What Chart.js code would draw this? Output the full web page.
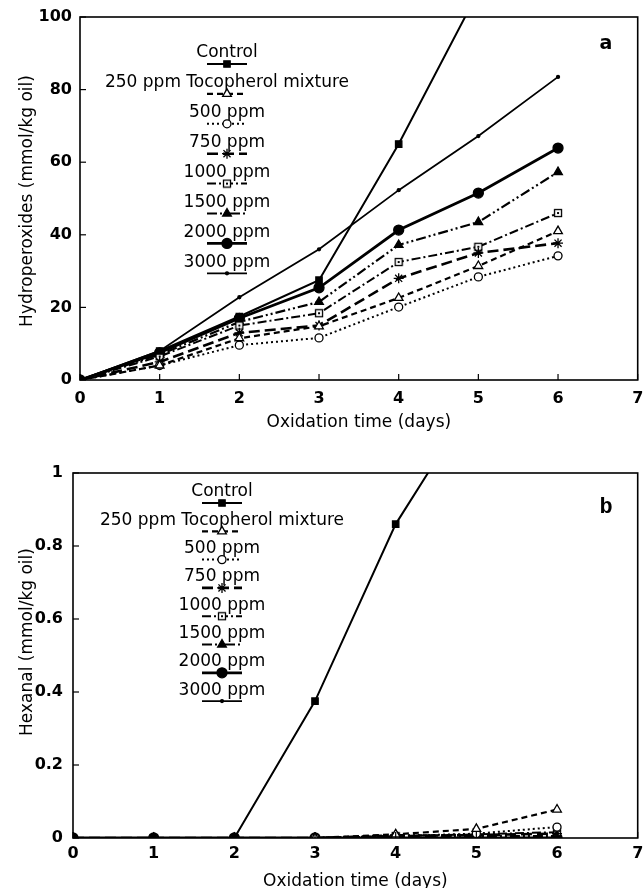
<!DOCTYPE html>
<html><head><meta charset="utf-8">
<script src="https://cdn.jsdelivr.net/npm/chart.js@4/dist/chart.umd.min.js"></script>
<style>
html,body{margin:0;padding:0;background:#fff;width:644px;height:888px;overflow:hidden}
.box{position:absolute;left:0;width:644px;height:444px}
#b1{top:0}#b2{top:444px}
canvas{display:block}
</style></head><body>
<div class="box" id="b1"><canvas id="c1" width="644" height="444"></canvas></div>
<div class="box" id="b2"><canvas id="c2" width="644" height="444"></canvas></div>
<script>
// ---------- data ----------
const days = [0, 1, 2, 3, 4, 5, 6];
const seriesNames = ['Control', '250 ppm Tocopherol mixture', '500 ppm', '750 ppm', '1000 ppm', '1500 ppm', '2000 ppm', '3000 ppm'];
const xTickValues = [0, 1, 2, 3, 4, 5, 6, 7];
const hpTickValues = [0, 20, 40, 60, 80, 100];
const hexTickValues = [0, 0.2, 0.4, 0.6, 0.8, 1];

// (a) Hydroperoxides (mmol/kg oil)
const hpControl = [0, 8, 17.5, 27.5, 65, 107, null];
const hp250 = [0, 4, 11.5, 14.8, 22.6, 31.4, 41];
const hp500 = [0, 4, 9.6, 11.6, 20.1, 28.4, 34.2];
const hp750 = [0, 5, 13, 15, 28, 35, 37.7];
const hp1000 = [0, 6.5, 15, 18.4, 32.5, 36.7, 46];
const hp1500 = [0, 7, 16, 21.5, 37.2, 43.5, 57.3];
const hp2000 = [0, 7.5, 17, 25.4, 41.3, 51.5, 63.9];
const hp3000 = [0, 8, 22.8, 36, 52.3, 67.2, 83.5];

// (b) Hexanal (mmol/kg oil)
const hexControl = [0, 0, 0, 0.375, 0.86, 1.21, null];
const hex250 = [0, 0, 0, 0, 0.01, 0.025, 0.078];
const hex500 = [0, 0, 0, 0, 0.005, 0.012, 0.03];
const hex750 = [0, 0, 0, 0, 0.005, 0.008, 0.012];
const hex1000 = [0, 0, 0, 0, 0.005, 0.01, 0.016];
const hex1500 = [0, 0, 0, 0, 0.008, 0.005, 0.005];
const hex2000 = [0, 0, 0, 0, 0, 0, 0];
const hex3000 = [0, 0, 0, 0, 0, 0, 0];

// ---------- styles ----------
function dottedSquare() {
  const c = document.createElement('canvas');
  c.width = 10; c.height = 10;
  const g = c.getContext('2d');
  g.fillStyle = '#fff'; g.fillRect(1, 1, 8, 8);
  g.strokeStyle = '#000'; g.lineWidth = 1.3; g.strokeRect(1.5, 1.5, 7, 7);
  g.fillStyle = '#000'; g.fillRect(4, 4, 2, 2);
  return c;
}
const sqDot = dottedSquare();
const seriesStyles = [
  {dash: [], width: 2, point: 'rect', r: 4.5, fill: '#000'},
  {dash: [6, 4], width: 2.2, point: 'triangle', r: 5, fill: '#fff'},
  {dash: [2, 3], width: 2, point: 'circle', r: 4, fill: '#fff'},
  {dash: [11, 5], width: 2.6, point: 'star', r: 5, fill: '#000'},
  {dash: [9, 3, 2, 3], width: 2, point: sqDot, r: 5, fill: '#fff'},
  {dash: [10, 3, 2, 3, 2, 3], width: 2.2, point: 'triangle', r: 5, fill: '#000'},
  {dash: [], width: 2.8, point: 'circle', r: 5, fill: '#000'},
  {dash: [], width: 1.8, point: 'circle', r: 1.5, fill: '#000'}
];

function buildDatasets(series) {
  return series.map((vals, i) => {
    const s = seriesStyles[i];
    return {
      label: seriesNames[i],
      data: days.map((d, k) => ({x: d, y: vals[k]})),
      borderColor: '#000',
      backgroundColor: s.fill,
      borderWidth: s.width,
      borderDash: s.dash,
      pointStyle: s.point,
      pointRadius: s.r,
      pointBackgroundColor: s.fill,
      pointBorderColor: '#000',
      pointBorderWidth: 1.3,
      tension: 0,
      spanGaps: false,
      _style: s
    };
  });
}

Chart.defaults.font.family = 'DejaVu Sans';
Chart.defaults.color = '#000';

const decor = {
  id: 'decor',
  afterDraw(chart, args, o) {
    const ctx = chart.ctx;
    const a = chart.chartArea;
    const xs = chart.scales.x, ys = chart.scales.y;
    ctx.save();
    ctx.setLineDash([]);
    ctx.strokeStyle = '#000';
    // frame
    ctx.lineWidth = 1.6;
    ctx.strokeRect(a.left, a.top, a.right - a.left, a.bottom - a.top);
    // inward ticks
    ctx.lineWidth = 1.2;
    ys.ticks.forEach(t => {
      const p = ys.getPixelForValue(t.value);
      ctx.beginPath(); ctx.moveTo(a.left, p); ctx.lineTo(a.left + 6, p); ctx.stroke();
    });
    xs.ticks.forEach(t => {
      const p = xs.getPixelForValue(t.value);
      ctx.beginPath(); ctx.moveTo(p, a.bottom); ctx.lineTo(p, a.bottom - 6); ctx.stroke();
    });
    // y title
    ctx.save();
    ctx.translate(o.yTitleX, o.yTitleY);
    ctx.rotate(-Math.PI / 2);
    ctx.font = '17px "DejaVu Sans"';
    ctx.fillStyle = '#000';
    ctx.textAlign = 'center'; ctx.textBaseline = 'middle';
    ctx.fillText(o.yTitle, 0, 0);
    ctx.restore();
    // panel letter
    ctx.font = o.letterFont;
    ctx.fillStyle = '#000';
    ctx.textAlign = 'center'; ctx.textBaseline = 'middle';
    ctx.fillText(o.letter, o.letterX, o.letterY);
    // legend
    chart.data.datasets.forEach((ds, i) => {
      const s = ds._style;
      const y = o.legY + i * o.legDy;
      ctx.font = '17px "DejaVu Sans"';
      ctx.fillStyle = '#000';
      ctx.textAlign = 'center'; ctx.textBaseline = 'middle';
      ctx.fillText(ds.label, o.legX, y);
      const ly = y + 11;
      ctx.lineWidth = s.width;
      ctx.setLineDash(s.dash);
      ctx.beginPath(); ctx.moveTo(o.legX - 20, ly); ctx.lineTo(o.legX + 20, ly); ctx.stroke();
      ctx.setLineDash([]);
      ctx.lineWidth = 1.3;
      ctx.fillStyle = s.fill;
      Chart.helpers.drawPoint(ctx, {pointStyle: s.point, radius: s.r, rotation: 0, borderWidth: 1.3}, o.legX, ly);
    });
    ctx.restore();
  }
};

function makeChart(id, series, yMax, yTicks, geo) {
  return new Chart(document.getElementById(id), {
    type: 'line',
    data: {datasets: buildDatasets(series)},
    plugins: [decor],
    options: {
      responsive: false,
      animation: false,
      devicePixelRatio: 1,
      layout: {padding: {top: geo.top, right: 4, left: 0, bottom: 0}},
      plugins: {
        legend: {display: false},
        tooltip: {enabled: false},
        decor: geo.decor
      },
      scales: {
        x: {
          type: 'linear', min: 0, max: 7,
          afterBuildTicks: s => { s.ticks = xTickValues.map(v => ({value: v})); },
          afterFit: s => { s.height = geo.xH; s.paddingLeft = 0; s.paddingRight = 0; },
          grid: {display: false, drawTicks: false},
          border: {display: false},
          ticks: {font: {size: 16, weight: 'bold'}, padding: geo.xPad, maxRotation: 0, autoSkip: false, callback: v => String(v)},
          title: {display: true, text: 'Oxidation time (days)', font: {size: 17}, padding: {top: 0, bottom: geo.xTitlePad}}
        },
        y: {
          type: 'linear', min: 0, max: yMax,
          afterBuildTicks: s => { s.ticks = yTicks.map(v => ({value: v})); },
          afterFit: s => { s.width = geo.yW; s.paddingTop = 0; s.paddingBottom = 0; },
          grid: {display: false, drawTicks: false},
          border: {display: false},
          ticks: {font: {size: 16, weight: 'bold'}, padding: geo.yPad, autoSkip: false, callback: v => String(v)}
        }
      }
    }
  });
}

makeChart('c1', [hpControl, hp250, hp500, hp750, hp1000, hp1500, hp2000, hp3000], 100, hpTickValues, {
  top: 17, xH: 64, yW: 80, xPad: 9, yPad: 8, xTitlePad: 10.8,
  decor: {yTitle: 'Hydroperoxides (mmol/kg oil)', yTitleX: 28, yTitleY: 201,
    letter: 'a', letterFont: 'bold 19px "DejaVu Sans"', letterX: 606, letterY: 44,
    legX: 227, legY: 53, legDy: 29.9}
});
makeChart('c2', [hexControl, hex250, hex500, hex750, hex1000, hex1500, hex2000, hex3000], 1, hexTickValues, {
  top: 29, xH: 50, yW: 73, xPad: 6, yPad: 10, xTitlePad: -4.2,
  decor: {yTitle: 'Hexanal (mmol/kg oil)', yTitleX: 28, yTitleY: 198,
    letter: 'b', letterFont: 'bold 22px "Liberation Mono"', letterX: 606, letterY: 63,
    legX: 222, legY: 48, legDy: 28.3}
});
</script>
</body></html>
